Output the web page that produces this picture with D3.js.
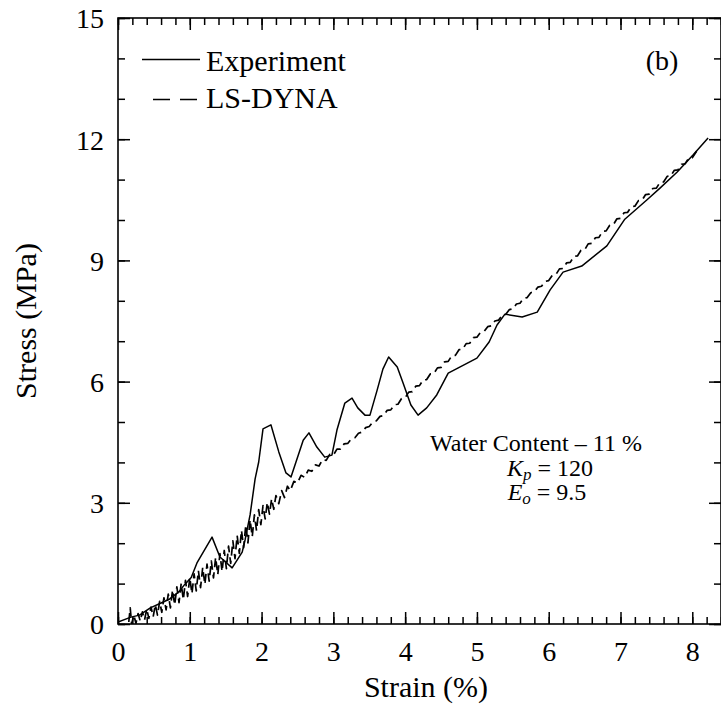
<!DOCTYPE html>
<html><head><meta charset="utf-8">
<script src="https://cdn.jsdelivr.net/npm/d3@7"></script>
<style>
svg text { font-family: "Liberation Serif", "Times New Roman", Times, serif !important; }
</style>
</head><body style="margin:0;background:#fff">
<svg id="c" width="721" height="713" style="display:block" font-family="Times New Roman"></svg>
<script>
// ---- data ----
const expStrain = [0,0.18,0.3,0.45,0.6,0.72,0.85,0.93,1.02,1.10,1.31,1.42,1.59,1.73,1.77,1.84,1.91,1.96,2.02,2.13,2.24,2.34,2.41,2.58,2.66,2.77,2.88,2.98,3.05,3.16,3.26,3.34,3.44,3.51,3.61,3.69,3.77,3.89,3.97,4.08,4.18,4.30,4.44,4.60,5.00,5.17,5.28,5.39,5.63,5.84,6.02,6.20,6.46,6.81,7.06,7.37,7.55,7.79,8.01,8.22];
const expStress = [0.05,0.17,0.22,0.40,0.52,0.62,0.80,0.98,1.15,1.51,2.15,1.66,1.39,1.78,2.08,2.70,3.59,4.01,4.83,4.93,4.26,3.74,3.64,4.55,4.73,4.38,4.13,4.18,4.80,5.47,5.59,5.35,5.17,5.17,5.79,6.31,6.61,6.36,5.97,5.42,5.17,5.35,5.67,6.21,6.58,6.98,7.40,7.67,7.60,7.72,8.27,8.71,8.86,9.36,10.02,10.50,10.79,11.19,11.61,12.03];

const dynaStrain = [0.15,0.17,0.19,0.22,0.25,0.28,0.31,0.34,0.37,0.40,0.43,0.46,0.49,0.52,0.55,0.58,0.61,0.64,0.67,0.70,0.73,0.76,0.79,0.82,0.85,0.88,0.91,0.94,0.97,1.00,1.03,1.06,1.09,1.12,1.15,1.18,1.21,1.24,1.27,1.30,1.33,1.36,1.39,1.42,1.45,1.48,1.51,1.54,1.57,1.60,1.63,1.66,1.69,1.72,1.75,1.78,1.81,1.84,1.87,1.90,1.93,1.96,1.99,2.02,2.05,2.08,2.11,2.14,2.17,2.20,2.24,2.28,2.32,2.36,2.40,2.45,2.50,2.55,2.60,2.65,2.70,2.75,2.80,2.85,2.90,2.95,3.00,3.05,3.10,3.15,3.20,3.25,3.30,3.35,3.40,3.45,3.50,3.55,3.60,3.65,3.70,3.75,3.80,3.85,3.90,3.95,4.00,4.05,4.10,4.15,4.20,4.25,4.30,4.35,4.40,4.45,4.50,4.55,4.60,4.65,4.70,4.75,4.80,4.85,4.90,4.95,5.00,5.05,5.10,5.15,5.20,5.25,5.30,5.35,5.40,5.45,5.50,5.55,5.60,5.65,5.70,5.75,5.80,5.85,5.90,5.95,6.00,6.05,6.10,6.15,6.20,6.25,6.30,6.35,6.40,6.45,6.50,6.55,6.60,6.65,6.70,6.75,6.80,6.85,6.90,6.95,7.00,7.05,7.10,7.15,7.20,7.25,7.30,7.35,7.40,7.45,7.50,7.55,7.60,7.65,7.70,7.75,7.80,7.85,7.90,7.95,8.00,8.06];
const dynaStress = [0.05,0.40,0.00,0.22,0.02,0.26,0.07,0.30,0.10,0.37,0.14,0.42,0.18,0.48,0.22,0.56,0.29,0.65,0.35,0.74,0.40,0.84,0.47,0.92,0.53,1.00,0.60,1.08,0.68,1.15,0.75,1.24,0.82,1.32,0.90,1.40,0.98,1.48,1.06,1.56,1.14,1.65,1.22,1.74,1.30,1.82,1.37,1.93,1.50,2.06,1.62,2.19,1.75,2.32,1.89,2.45,2.01,2.58,2.16,2.70,2.31,2.83,2.46,2.93,2.60,3.01,2.72,3.10,2.84,3.18,2.98,3.30,3.13,3.41,3.30,3.53,3.49,3.68,3.63,3.81,3.78,3.94,3.91,4.07,4.05,4.20,4.18,4.33,4.33,4.46,4.47,4.58,4.61,4.72,4.75,4.86,4.89,5.00,5.03,5.14,5.16,5.29,5.30,5.43,5.44,5.58,5.60,5.74,5.75,5.89,5.90,6.04,6.05,6.19,6.20,6.34,6.35,6.49,6.50,6.64,6.65,6.79,6.80,6.94,6.95,7.09,7.10,7.22,7.24,7.36,7.38,7.50,7.52,7.64,7.66,7.78,7.80,7.92,7.94,8.06,8.08,8.20,8.22,8.34,8.36,8.48,8.50,8.63,8.65,8.79,8.80,8.94,8.95,9.10,9.11,9.25,9.26,9.41,9.42,9.56,9.57,9.72,9.73,9.87,9.88,10.03,10.04,10.18,10.19,10.33,10.34,10.48,10.49,10.63,10.64,10.78,10.79,10.93,10.94,11.08,11.09,11.23,11.24,11.38,11.39,11.53,11.54,11.70];

const xTickValues = [0,1,2,3,4,5,6,7,8];
const yTickValues = [0,3,6,9,12,15];
const seriesNames = ["Experiment","LS-DYNA"];
const panelLabel = "(b)";
const noteLines = ["Water Content – 11 %"];

// ---- chart ----
const FONT = '"Liberation Serif"';
const svg = d3.select("#c");
const x = d3.scaleLinear().domain([0,8.4]).range([118,721]);
const y = d3.scaleLinear().domain([0,15]).range([624,18]);

svg.append("defs").append("clipPath").attr("id","clip")
  .append("rect").attr("x",118).attr("y",18).attr("width",603).attr("height",606);

const line = d3.line().x(d=>x(d[0])).y(d=>y(d[1]));
const expData = expStrain.map((v,i)=>[v,expStress[i]]);
const dynaData = dynaStrain.map((v,i)=>[v,dynaStress[i]]);

const gData = svg.append("g").attr("clip-path","url(#clip)");
gData.append("path").datum(dynaData).attr("d",line)
  .attr("fill","none").attr("stroke","#000").attr("stroke-width",1.7)
  .attr("stroke-dasharray","9,5").attr("stroke-linejoin","round");
gData.append("path").datum(expData).attr("d",line)
  .attr("fill","none").attr("stroke","#000").attr("stroke-width",1.5)
  .attr("stroke-linejoin","round");

// axes
function styleAxis(g){
  g.attr("font-family", null);
  g.select(".domain").remove();
  g.selectAll("line").attr("stroke","#000").attr("stroke-width",1.5);
  g.selectAll("text").attr("font-family","Times New Roman").style("font-family",FONT).attr("fill","#000");
}
const minorX = d3.range(0,8.41,0.2).map(v=>+v.toFixed(2));
const minorY = d3.range(0,15.01,1);

svg.append("g").attr("transform","translate(0,624)")
  .call(d3.axisBottom(x).tickValues(minorX).tickSize(-7).tickFormat("")).call(styleAxis);
svg.append("g").attr("transform","translate(0,18)")
  .call(d3.axisTop(x).tickValues(minorX).tickSize(-7).tickFormat("")).call(styleAxis);
svg.append("g").attr("transform","translate(118,0)")
  .call(d3.axisLeft(y).tickValues(minorY).tickSize(-7).tickFormat("")).call(styleAxis);
svg.append("g").attr("transform","translate(721,0)")
  .call(d3.axisRight(y).tickValues(minorY).tickSize(-7).tickFormat("")).call(styleAxis);

const bx = svg.append("g").attr("transform","translate(0,624)")
  .call(d3.axisBottom(x).tickValues(xTickValues).tickSize(-12).tickFormat(d3.format("d"))).call(styleAxis);
bx.selectAll("text").attr("font-size",28).attr("dy","0.71em").attr("y",17);
svg.append("g").attr("transform","translate(0,18)")
  .call(d3.axisTop(x).tickValues(xTickValues).tickSize(-12).tickFormat("")).call(styleAxis);
const ly = svg.append("g").attr("transform","translate(118,0)")
  .call(d3.axisLeft(y).tickValues(yTickValues).tickSize(-12).tickFormat(d3.format("d"))).call(styleAxis);
ly.selectAll("text").attr("font-size",28).attr("x",-14).attr("dy","0.35em");
svg.append("g").attr("transform","translate(721,0)")
  .call(d3.axisRight(y).tickValues(yTickValues).tickSize(-12).tickFormat("")).call(styleAxis);

// frame
svg.append("rect").attr("x",118).attr("y",18).attr("width",603).attr("height",606)
  .attr("fill","none").attr("stroke","#000").attr("stroke-width",1.6);

function txt(){ return svg.append("text").attr("font-family","Times New Roman").style("font-family",FONT).attr("fill","#000"); }

// axis titles
txt().attr("x",426).attr("y",697).attr("text-anchor","middle").attr("font-size",30).text("Strain (%)");
txt().attr("transform","translate(36,321) rotate(-90)").attr("text-anchor","middle").attr("font-size",30).text("Stress (MPa)");

// legend
svg.append("line").attr("x1",142).attr("x2",200).attr("y1",59.5).attr("y2",59.5)
  .attr("stroke","#000").attr("stroke-width",1.5);
txt().attr("x",206).attr("y",71).attr("font-size",30).text(seriesNames[0]);
svg.append("line").attr("x1",153).attr("x2",197).attr("y1",99.5).attr("y2",99.5)
  .attr("stroke","#000").attr("stroke-width",1.5).attr("stroke-dasharray","17,10");
txt().attr("x",206).attr("y",108).attr("font-size",30).text(seriesNames[1]);

// panel label
txt().attr("x",662).attr("y",70).attr("text-anchor","middle").attr("font-size",28).text(panelLabel);

// annotation
txt().attr("x",536).attr("y",451).attr("text-anchor","middle").attr("font-size",24).text(noteLines[0]);
const t2 = txt().attr("x",550).attr("y",476).attr("text-anchor","middle").attr("font-size",24);
t2.append("tspan").attr("font-style","italic").text("K");
t2.append("tspan").attr("font-style","italic").attr("font-size",17).attr("dy",4).text("p");
t2.append("tspan").attr("dy",-4).text(" = 120");
const t3 = txt().attr("x",547).attr("y",500).attr("text-anchor","middle").attr("font-size",24);
t3.append("tspan").attr("font-style","italic").text("E");
t3.append("tspan").attr("font-style","italic").attr("font-size",17).attr("dy",4).text("o");
t3.append("tspan").attr("dy",-4).text(" = 9.5");
</script>
</body></html>
